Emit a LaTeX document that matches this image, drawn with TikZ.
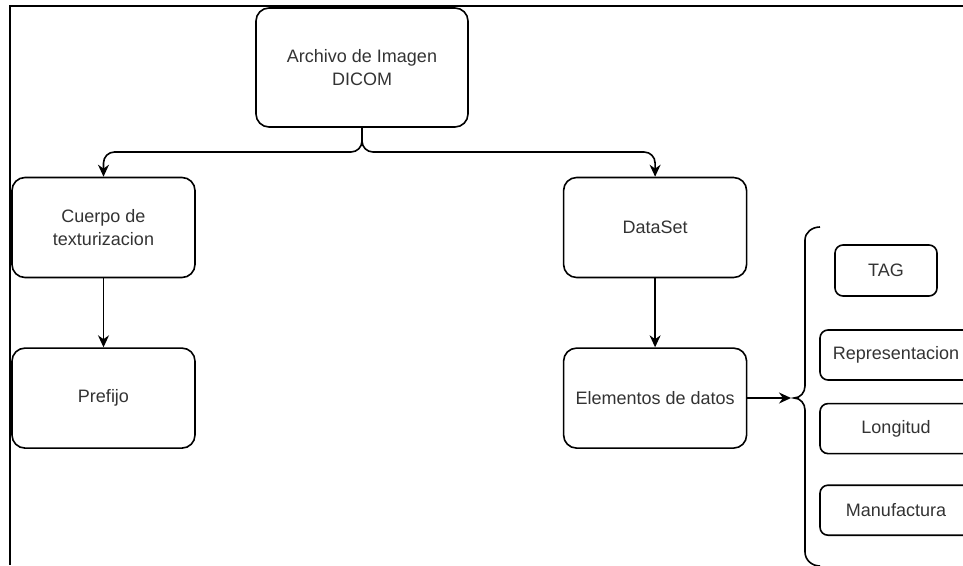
\documentclass[tikz,border=0pt]{standalone}
\usepackage{fontspec}
\setmainfont{Liberation Sans}
\usetikzlibrary{arrows.meta,positioning}
\tikzstyle{block} = [rectangle, draw, rounded corners=13pt, align=center, text=black!80, minimum width=183pt, minimum height=100pt, line width=1.6pt]
\tikzstyle{field} = [rectangle, draw, rounded corners=8pt, align=center, text=black!80, minimum width=152pt, minimum height=50pt, line width=1.6pt]
\tikzstyle{link} = [draw, line width=1.6pt, -{Stealth[length=12pt,width=11pt]}]
\tikzstyle{brace} = [draw, line width=1.6pt]

\begin{document}
\begin{tikzpicture}[x=1pt,y=-1pt,node distance=69pt and 367pt,font=\fontsize{18}{23}\selectfont]
    \useasboundingbox (0,0) rectangle (963,565);
    \clip (0,0) rectangle (963,565);
    % marco
    \draw[line width=2.4pt] (963,6) -- (10,6) -- (10,565);

    \node [block, minimum width=212pt, minimum height=119pt] (archivo) at (362,67.5) {Archivo de Imagen\\DICOM};
    \node [block] (cuerpo) at (103.5,227.5) {Cuerpo de\\texturizacion};
    \node [block, below= of cuerpo] (prefijo) {Prefijo};
    \node [block, right= of cuerpo] (dataset) {DataSet};
    \node [block, below= of dataset] (elementos) {Elementos de datos};

    \node [field, minimum width=102pt, minimum height=51pt] (tag) at (886,270.5) {TAG};
    \node [field] (repr) at (896,355) {Representacion};
    \node [field, below=22pt of repr] (longitud) {Longitud};
    \node [field, below=30pt of longitud] (manufactura) {Manufactura};

    \coordinate (split) at (archivo.south |- 0,152);
    \coordinate (punta) at (791,398);

    \draw[link, rounded corners=11pt] (archivo.south) -- (split) -| (cuerpo.north);
    \draw[link, rounded corners=11pt] (archivo.south) -- (split) -| (dataset.north);
    \draw[link] (cuerpo) -- (prefijo);
    \draw[link] (dataset) -- (elementos);
    \draw[link] (elementos.east |- punta) -- (punta);

    % llave
    \draw[brace] (820,227) to[out=180,in=90] (805,240) -- (805,386)
        to[out=-90,in=0] (794,398) to[out=0,in=90] (805,410) -- (805,552)
        to[out=-90,in=180] (820,566);
\end{tikzpicture}
\end{document}
